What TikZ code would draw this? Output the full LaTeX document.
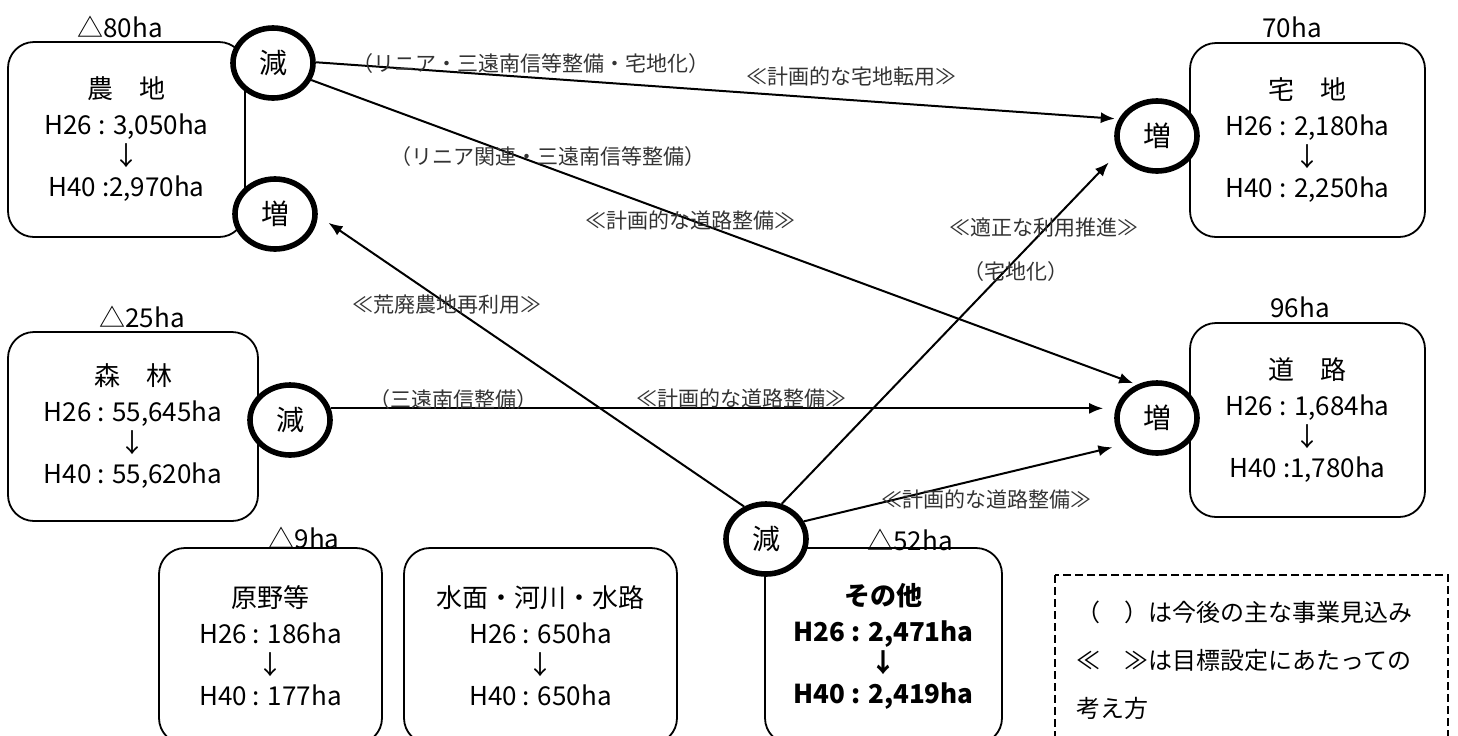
\documentclass[tikz,border=0pt]{standalone}
\usepackage{fontspec}
\setmainfont{Noto Sans CJK JP}
\usetikzlibrary{shapes.geometric,arrows.meta}

\begin{document}
\begin{tikzpicture}[x=0.5pt,y=-0.5pt,
    caja/.style={draw, line width=0.9pt, rounded corners=13pt, align=center, inner sep=0pt,
      font=\fontsize{13}{15.5}\selectfont},
    circulo/.style={draw, ellipse, line width=2.8pt, fill=white, minimum width=40pt,
      minimum height=35pt, inner sep=0pt, font=\fontsize{14}{15.5}\selectfont},
    flecha/.style={line width=1pt, -{Latex[length=7pt,width=5.5pt]}, shorten >=2pt},
    cifra/.style={inner sep=0pt, font=\fontsize{13}{15.5}\selectfont},
    rotulo/.style={inner sep=0pt, text=black!80, font=\fontsize{10.5}{12}\selectfont},
    nota/.style={anchor=west, inner sep=0pt, font=\fontsize{12}{14}\selectfont}]

        \clip (0,0) rectangle (1458,735);

        % Cajas
        \node[caja, minimum width=118.5pt, minimum height=97.5pt] (agri) at (126.5,139.5)
            {農　地\\[2.5pt]H26 : 3,050ha\\↓\\H40 :2,970ha};
        \node[caja, minimum width=125pt, minimum height=94.5pt] (forest) at (133,426.5)
            {森　林\\[2.5pt]H26 : 55,645ha\\↓\\H40 : 55,620ha};
        \node[caja, minimum width=117.5pt, minimum height=97pt] (resid) at (1307.5,140)
            {宅　地\\[2.5pt]H26 : 2,180ha\\↓\\H40 : 2,250ha};
        \node[caja, minimum width=117.5pt, minimum height=97pt] (road) at (1307.5,420)
            {道　路\\[2.5pt]H26 : 1,684ha\\↓\\H40 :1,780ha};
        \node[caja, minimum width=111.5pt, minimum height=98pt] (wild) at (270.5,646)
            {原野等\\[2.5pt]H26 : 186ha\\↓\\H40 : 177ha};
        \node[caja, minimum width=136.5pt, minimum height=98pt] (water) at (540.5,646)
            {水面・河川・水路\\[2.5pt]H26 : 650ha\\↓\\H40 : 650ha};
        \node[caja, minimum width=118.5pt, minimum height=98pt,
            font=\fontsize{13}{15.5}\selectfont\bfseries] (other) at (883.5,646)
            {その他\\[2.5pt]H26 : 2,471ha\\↓\\H40 : 2,419ha};

        % Cifras
        \node[cifra] (dAgri) at (120,27) {△80ha};
        \node[cifra] (dForest) at (142,317) {△25ha};
        \node[cifra] (dResid) at (1292,27) {70ha};
        \node[cifra] (dRoad) at (1300,307) {96ha};
        \node[cifra] (dWild) at (304,538) {△9ha};
        \node[cifra] (dOther) at (910,540) {△52ha};

        % Círculos
        \node[circulo] (gA) at (273,63) {減};
        \node[circulo] (iA) at (275,214) {増};
        \node[circulo] (gF) at (290,420) {減};
        \node[circulo] (iH) at (1157,136) {増};
        \node[circulo] (iR) at (1157,418) {増};
        \node[circulo] (gO) at (766,539) {減};

        % Flechas
        \draw[flecha] (gA.1) -- (iH.156);
        \draw[flecha] (gA.-24) -- (iR.121);
        \draw[flecha, shorten >=6.5pt] (gO.124) -- (iA.-2);
        \draw[flecha, shorten >=5.5pt] (gF.16) -- (gF.16 -| iR.west);
        \draw[flecha, shorten >=7pt] (gO.66) -- (iH.203);
        \draw[flecha, shorten >=7pt] (gO.25) -- (iR.220);

        % Rótulos
        \node[rotulo] (t1) at (531,64) {（リニア・三遠南信等整備・宅地化）};
        \node[rotulo] (t2) at (851,77) {≪計画的な宅地転用≫};
        \node[rotulo] (t3) at (548,157) {（リニア関連・三遠南信等整備）};
        \node[rotulo] (t4) at (690,220) {≪計画的な道路整備≫};
        \node[rotulo] (t5) at (447,305) {≪荒廃農地再利用≫};
        \node[rotulo] (t6) at (453,400) {（三遠南信整備）};
        \node[rotulo] (t7) at (741,398) {≪計画的な道路整備≫};
        \node[rotulo] (t8) at (1044,228) {≪適正な利用推進≫};
        \node[rotulo] (t9) at (1016,272) {（宅地化）};
        \node[rotulo] (t10) at (986,499) {≪計画的な道路整備≫};

        % Leyenda
        \draw[line width=0.75pt, dash pattern=on 4pt off 2pt] (1055,575) rectangle (1448,760);
        \node[nota] (n1) at (1076,612) {（　）は今後の主な事業見込み};
        \node[nota] (n2) at (1076,660) {≪　≫は目標設定にあたっての};
        \node[nota] (n3) at (1076,708) {考え方};
    \end{tikzpicture}
\end{document}
